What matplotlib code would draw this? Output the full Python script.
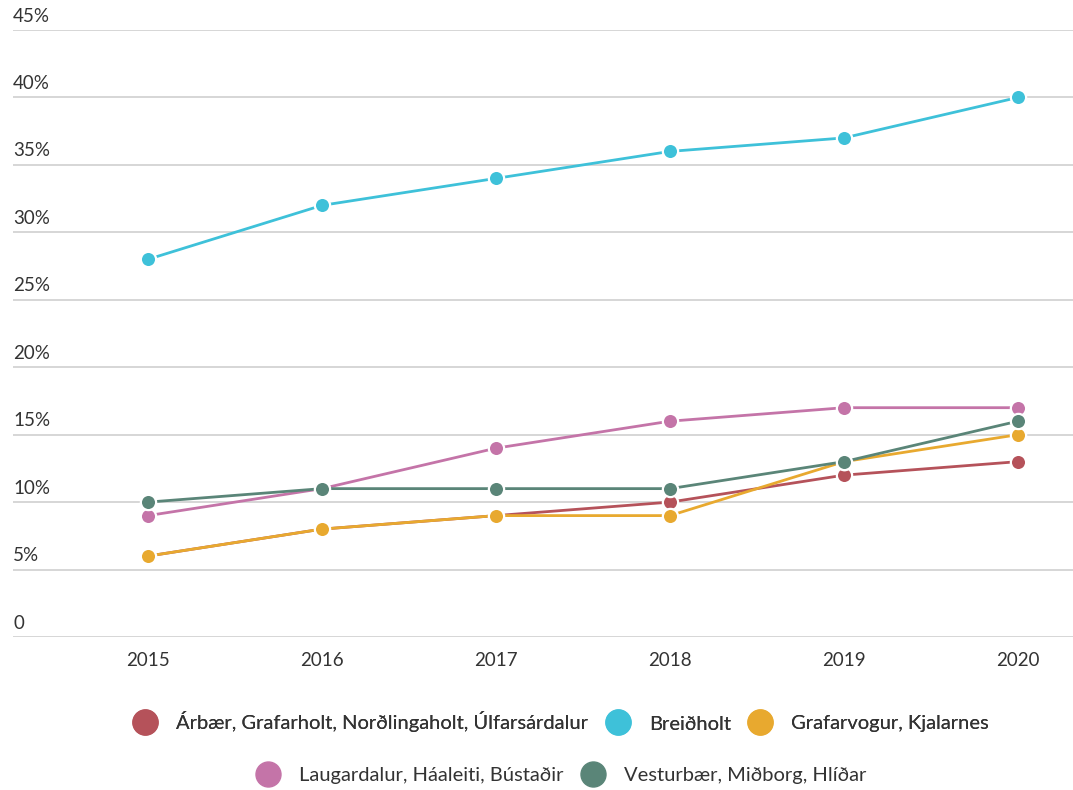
import matplotlib
matplotlib.use('Agg')
import matplotlib.pyplot as plt
import matplotlib.transforms as mtransforms
from matplotlib.lines import Line2D

plt.rcParams['font.family'] = ['Lato', 'DejaVu Sans']

years = [2015, 2016, 2017, 2018, 2019, 2020]
names = ['Árbær, Grafarholt, Norðlingaholt, Úlfarsárdalur',
         'Breiðholt',
         'Grafarvogur, Kjalarnes',
         'Laugardalur, Háaleiti, Bústaðir',
         'Vesturbær, Miðborg, Hlíðar']
arbaer = [6, 8, 9, 10, 12, 13]
breidholt = [28, 32, 34, 36, 37, 40]
grafarvogur = [6, 8, 9, 9, 13, 15]
laugardalur = [9, 11, 14, 16, 17, 17]
vesturbaer = [10, 11, 11, 11, 13, 16]
series = [arbaer, breidholt, grafarvogur, laugardalur, vesturbaer]
colors = ['#b5525a', '#3ec1d9', '#e8a92f', '#c474a8', '#5a8578']
yticks = [0, 5, 10, 15, 20, 25, 30, 35, 40, 45]
ytick_labels = ['0'] + ['%d%%' % v for v in yticks[1:]]

fig = plt.figure(figsize=(10.73, 7.90), dpi=100)
ax = fig.add_axes([13 / 1073, 1 - 637 / 790, 1 - 13 / 1073, (637 - 30) / 790])

for y in yticks:
    ax.axhline(y, color='#d0d0d0', lw=1.2, zorder=0)

for vals, col in zip(series, colors):
    ax.plot(years, vals, color=col, lw=2, marker='o', markersize=11,
            markeredgecolor='white', markeredgewidth=1.6, clip_on=False)

ax.set_xlim(2014.224, 2020.316)
ax.set_ylim(0, 45)
ax.set_yticks([])
ax.set_xticks(years)
ax.set_xticklabels([str(y) for y in years], fontsize=13.5, color='#333333')
ax.tick_params(axis='x', length=0, pad=11)
for s in ax.spines.values():
    s.set_visible(False)

trans = mtransforms.blended_transform_factory(ax.transAxes, ax.transData)
for y, lab in zip(yticks, ytick_labels):
    ax.text(0, y + 0.4, lab, transform=trans, ha='left', va='bottom',
            fontsize=13.5, color='#333333')

def handle(c):
    return Line2D([], [], linestyle='none', marker='o', markersize=18,
                  markerfacecolor=c, markeredgecolor=c)

legend_kw = dict(loc='center', frameon=False, fontsize=14.5, handletextpad=0.85,
                 columnspacing=0.75, handlelength=1.4, labelcolor='#333333')
leg1 = fig.legend([handle(c) for c in colors[:3]], names[:3], ncol=3,
                  bbox_to_anchor=(560 / 1073, 1 - 722 / 790), **legend_kw)
fig.add_artist(leg1)
fig.legend([handle(c) for c in colors[3:]], names[3:], ncol=2,
           bbox_to_anchor=(560 / 1073, 1 - 775 / 790), **legend_kw)

fig.savefig('out.png', dpi=100)
